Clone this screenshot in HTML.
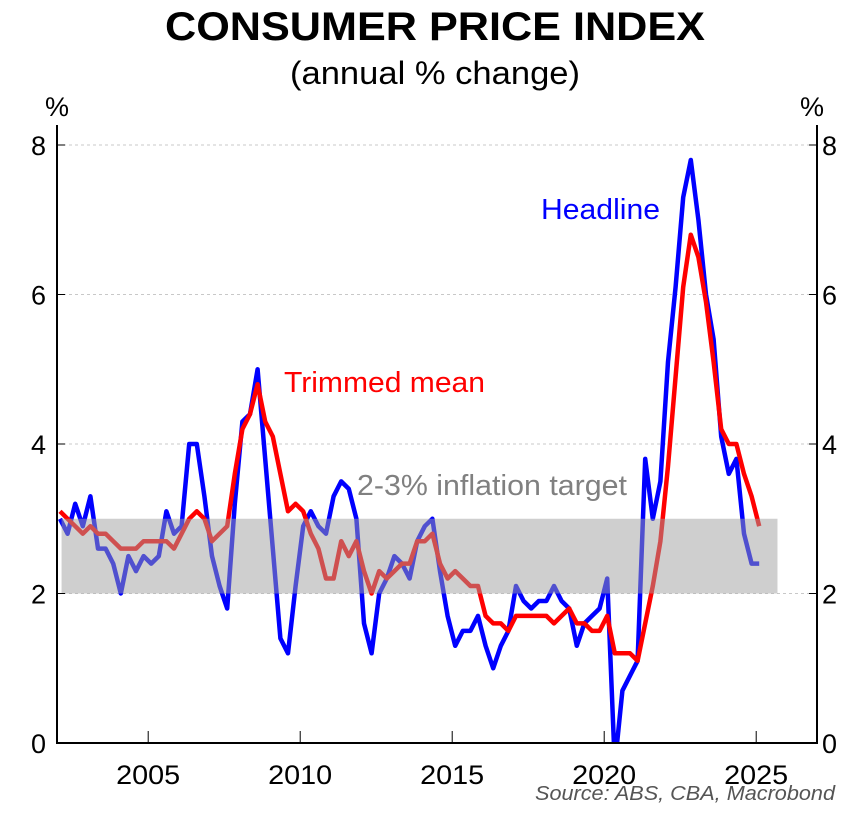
<!DOCTYPE html>
<html><head><meta charset="utf-8"><style>
html,body{margin:0;padding:0;background:#fff;}
svg text{font-family:"Liberation Sans",Arial,sans-serif;}
</style></head><body>
<svg id="chart" width="861" height="814" viewBox="0 0 861 814" xmlns="http://www.w3.org/2000/svg">
<defs><clipPath id="plotclip"><rect x="57" y="100" width="760" height="643"/></clipPath></defs>
<text x="435" y="40" text-anchor="middle" font-size="40" font-weight="bold" textLength="540" lengthAdjust="spacingAndGlyphs">CONSUMER PRICE INDEX</text>
<text x="435" y="84" text-anchor="middle" font-size="32" textLength="290" lengthAdjust="spacingAndGlyphs">(annual % change)</text>
<text x="57" y="116" text-anchor="middle" font-size="27">%</text>
<text x="812" y="116" text-anchor="middle" font-size="27">%</text>
<g id="grid"></g>
<g id="lines" clip-path="url(#plotclip)"></g>
<g id="band"></g>
<g id="axes"></g>
<text x="541" y="219" font-size="29" fill="#0000ff" textLength="119" lengthAdjust="spacingAndGlyphs">Headline</text>
<text x="284" y="392" font-size="29" fill="#ff0000" textLength="201" lengthAdjust="spacingAndGlyphs">Trimmed mean</text>
<text x="357" y="495" font-size="29" fill="#808080" textLength="270" lengthAdjust="spacingAndGlyphs">2-3% inflation target</text>
<text x="835" y="800" text-anchor="end" font-size="20" font-style="italic" fill="#555" textLength="300" lengthAdjust="spacingAndGlyphs">Source: ABS, CBA, Macrobond</text>
</svg>
<script>
const startYear = 2002.1;
const headline = [3.0,2.8,3.2,2.9, 3.3,2.6,2.6,2.4, 2.0,2.5,2.3,2.5, 2.4,2.5,3.1,2.8, 2.9,4.0,4.0,3.3, 2.5,2.1,1.8,3.2, 4.3,4.4,5.0,3.8, 2.6,1.4,1.2,2.1, 2.9,3.1,2.9,2.8, 3.3,3.5,3.4,3.0, 1.6,1.2,2.0,2.2, 2.5,2.4,2.2,2.7, 2.9,3.0,2.3,1.7, 1.3,1.5,1.5,1.7, 1.3,1.0,1.3,1.5, 2.1,1.9,1.8,1.9, 1.9,2.1,1.9,1.8, 1.3,1.6,1.7,1.8, 2.2,-0.3,0.7,0.9, 1.1,3.8,3.0,3.5, 5.1,6.1,7.3,7.8, 7.0,6.0,5.4,4.1, 3.6,3.8,2.8,2.4, 2.4];
const trimmedMean = [3.1,3.0,2.9,2.8, 2.9,2.8,2.8,2.7, 2.6,2.6,2.6,2.7, 2.7,2.7,2.7,2.6, 2.8,3.0,3.1,3.0, 2.7,2.8,2.9,3.6, 4.2,4.4,4.8,4.3, 4.1,3.6,3.1,3.2, 3.1,2.8,2.6,2.2, 2.2,2.7,2.5,2.7, 2.3,2.0,2.3,2.2, 2.3,2.4,2.4,2.7, 2.7,2.8,2.4,2.2, 2.3,2.2,2.1,2.1, 1.7,1.6,1.6,1.5, 1.7,1.7,1.7,1.7, 1.7,1.6,1.7,1.8, 1.6,1.6,1.5,1.5, 1.7,1.2,1.2,1.2, 1.1,1.6,2.1,2.7, 3.7,4.9,6.1,6.8, 6.5,5.9,5.1,4.2, 4.0,4.0,3.6,3.3, 2.9];
const yTicks = [0,2,4,6,8];
const xTicks = [2005,2010,2015,2020,2025];
const targetBand = [2,3];
const bandYears = [2002.15,2025.7];

const NS='http://www.w3.org/2000/svg';
const X0=57,X1=817,Y0=743,Y1=145;
const xs=y=>X0+(y-2002)/(2027-2002)*(X1-X0);
const ys=v=>Y0-(v/8)*(Y0-Y1);
function mk(tag,attrs,parent){const e=document.createElementNS(NS,tag);for(const k in attrs)e.setAttribute(k,attrs[k]);parent.appendChild(e);return e;}
const grid=document.getElementById('grid'),lines=document.getElementById('lines'),band=document.getElementById('band'),axes=document.getElementById('axes');
yTicks.forEach(t=>{
  if(t>0){const g=mk('line',{x1:X0,x2:X1,y1:ys(t),y2:ys(t),stroke:'#c8c8c8','stroke-width':1,'stroke-dasharray':'3,3'},grid);
  
  }
  const tl=mk('line',{x1:X0,x2:X0+8,y1:ys(t),y2:ys(t),stroke:'#000','stroke-width':1},axes);
  
  
  const tr=mk('line',{x1:X1-8,x2:X1,y1:ys(t),y2:ys(t),stroke:'#000','stroke-width':1},axes);
  
  
  const a=mk('text',{x:X0-11,y:ys(t)+10,'text-anchor':'end','font-size':27},axes);a.textContent=t;
  
  
  const b=mk('text',{x:X1+5,y:ys(t)+10,'text-anchor':'start','font-size':27},axes);b.textContent=t;
  
  
});
xTicks.forEach(t=>{
  const l=mk('line',{x1:xs(t),x2:xs(t),y1:Y0,y2:Y0-12,stroke:'#000','stroke-width':1},axes);
  
  
  const tx=mk('text',{x:xs(t),y:784,'text-anchor':'middle','font-size':27,textLength:64,lengthAdjust:'spacingAndGlyphs'},axes);tx.textContent=t;
  
  
});
function path(data,color,name){
  const d=data.map((v,i)=>(i?'L':'M')+xs(startYear+i*0.25).toFixed(1)+','+ys(v).toFixed(1)).join('');
  const p=mk('path',{d:d,fill:'none',stroke:color,'stroke-width':4.5,'stroke-linejoin':'round'},lines);
  
  
}
path(headline,'#0000ff','headline-line');
path(trimmedMean,'#ff0000','trimmed-mean-line');
const r=mk('rect',{x:xs(bandYears[0]),y:ys(targetBand[1]),width:xs(bandYears[1])-xs(bandYears[0]),height:ys(targetBand[0])-ys(targetBand[1]),fill:'rgba(160,160,160,0.5)'},band);


const ax=mk('path',{d:`M${X0},${Y1-20}V${Y0}H${X1}V${Y1-20}`,fill:'none',stroke:'#000','stroke-width':2},axes);


</script>
</body></html>
